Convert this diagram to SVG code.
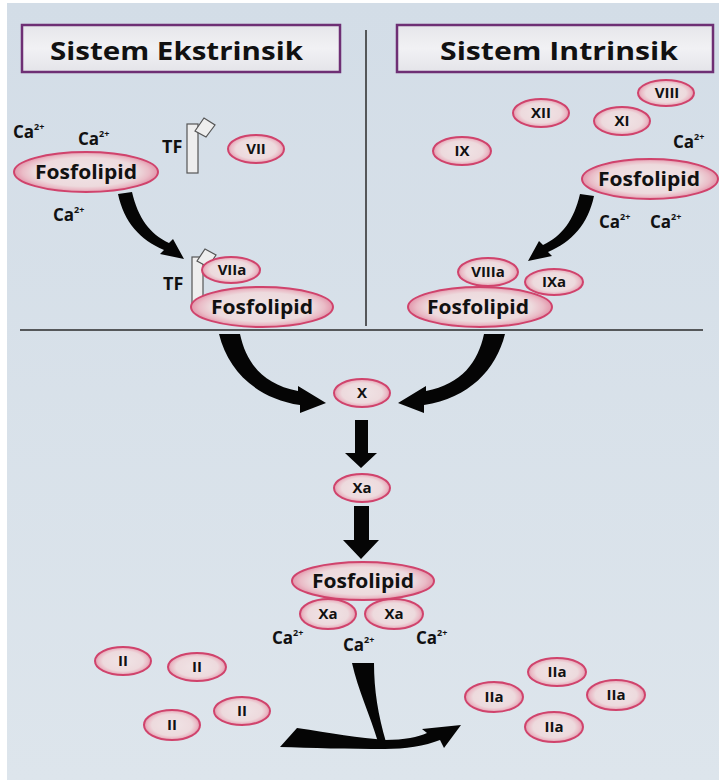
<svg xmlns="http://www.w3.org/2000/svg" width="719" height="780" viewBox="0 0 719 780">
<defs>
<linearGradient id="bg" x1="0" y1="0" x2="0" y2="1">
<stop offset="0" stop-color="#d3dde7"/>
<stop offset="1" stop-color="#dde5ec"/>
</linearGradient>
<radialGradient id="eg" cx="50%" cy="50%" r="50%">
<stop offset="0" stop-color="#f0e4e6"/>
<stop offset="0.72" stop-color="#eddadd"/>
<stop offset="0.88" stop-color="#eabcc7"/>
<stop offset="1" stop-color="#e296ab"/>
</radialGradient>
<linearGradient id="hg" x1="0" y1="0" x2="0" y2="1">
<stop offset="0" stop-color="#e6e6ea"/>
<stop offset="0.5" stop-color="#f1f1f4"/>
<stop offset="1" stop-color="#e4e4e9"/>
</linearGradient>
</defs>
<style>
.el{fill:url(#eg);stroke:#d0436c;stroke-width:2}
.t{font-family:"Open Sans","Liberation Sans",sans-serif;font-weight:700;fill:#111}
.lb{font-size:15px;text-anchor:middle}
.fl{font-size:20px;text-anchor:middle}
.ca{font-size:17px}
.sup{font-size:9px}
.hd{fill:url(#hg);stroke:#6e2f74;stroke-width:2.5}
.ht{font-size:25px}
.ln{stroke:#2a2a2a;stroke-width:1.5}
.ar{fill:#050505}
.tf{fill:#eeeeee;stroke:#555;stroke-width:1.2}
</style>
<rect x="0" y="0" width="719" height="780" fill="#ffffff"/>
<rect x="7" y="3" width="712" height="777" fill="url(#bg)"/>

<g id="header-ekstrinsik">
<rect class="hd" x="22" y="25" width="318" height="47"/>
<text class="t ht" x="50" y="60" textLength="253" lengthAdjust="spacingAndGlyphs">Sistem Ekstrinsik</text>
</g>
<g id="header-intrinsik">
<rect class="hd" x="397" y="25" width="316" height="47"/>
<text class="t ht" x="440" y="60" textLength="238" lengthAdjust="spacingAndGlyphs">Sistem Intrinsik</text>
</g>

<g id="dividers">
<line class="ln" x1="366" y1="30" x2="366" y2="326"/>
<line class="ln" x1="20" y1="330" x2="703" y2="330"/>
</g>

<g id="connectors">
<path class="ar" d="M118,194 L132,192 C138,218 150,234 169,243 L173,239 L184,259 L160,254 L164,250 C140,240 124,222 118,194 Z"/>
<path class="ar" transform="translate(712,2) scale(-1,1)" d="M118,194 L132,192 C138,218 150,234 169,243 L173,239 L184,259 L160,254 L164,250 C140,240 124,222 118,194 Z"/>
<path class="ar" d="M219,334 L240,334 C246,362 262,384 298,391 L298,386 L326,403 L300,413 L300,405 C255,398 228,370 219,334 Z"/>
<path class="ar" transform="translate(724,0) scale(-1,1)" d="M219,334 L240,334 C246,362 262,384 298,391 L298,386 L326,403 L300,413 L300,405 C255,398 228,370 219,334 Z"/>
<path class="ar" d="M355,420 L368,420 L368,453 L377,453 L361,468 L345,453 L355,453 Z"/>
<path class="ar" d="M354,506 L369,506 L369,540 L379,540 L361,559 L343,540 L354,540 Z"/>
<path class="ar" d="M352,663 L374,663 C374,690 378,715 386,742 L378,742 C370,715 358,690 352,663 Z"/>
<path class="ar" d="M280,747 L297,728 C330,733 360,738 385,740 C405,740 418,737 427,733 L422,729 L461,725 L444,748 L440,740 C425,746 405,749 385,749 C350,749 310,748 280,747 Z"/>
</g>

<g id="ca-labels">
<text class="t ca" x="13" y="138">Ca<tspan class="sup" dy="-8">2+</tspan></text>
<text class="t ca" x="78" y="145">Ca<tspan class="sup" dy="-8">2+</tspan></text>
<text class="t ca" x="53" y="221">Ca<tspan class="sup" dy="-8">2+</tspan></text>
<text class="t ca" x="673" y="148">Ca<tspan class="sup" dy="-8">2+</tspan></text>
<text class="t ca" x="599" y="228">Ca<tspan class="sup" dy="-8">2+</tspan></text>
<text class="t ca" x="650" y="228">Ca<tspan class="sup" dy="-8">2+</tspan></text>
<text class="t ca" x="272" y="644">Ca<tspan class="sup" dy="-8">2+</tspan></text>
<text class="t ca" x="343" y="651">Ca<tspan class="sup" dy="-8">2+</tspan></text>
<text class="t ca" x="416" y="644">Ca<tspan class="sup" dy="-8">2+</tspan></text>
</g>

<g id="tf-top">
<rect class="tf" x="187" y="124" width="11" height="49"/>
<polygon class="tf" points="195,131 204,118 215,125 206,137"/>
<text class="t" x="162" y="153" font-size="18">TF</text>
</g>
<g id="tf-bottom">
<rect class="tf" x="192" y="257" width="11" height="46"/>
<polygon class="tf" points="197,261 205,249 216,255 208,267"/>
<text class="t" x="163" y="290" font-size="18">TF</text>
</g>

<g id="fosfolipid-ekstrinsik">
<ellipse class="el" cx="86" cy="172" rx="72" ry="20"/>
<text class="t fl" x="86" y="179" textLength="102" lengthAdjust="spacingAndGlyphs">Fosfolipid</text>
</g>
<g id="vii">
<ellipse class="el" cx="256" cy="149" rx="28" ry="14"/>
<text class="t lb" x="256" y="154">VII</text>
</g>
<g id="viia">
<ellipse class="el" cx="231" cy="270" rx="29" ry="13"/>
<text class="t lb" x="232" y="275">VIIa</text>
</g>
<g id="fosfolipid-tf">
<ellipse class="el" cx="262" cy="307" rx="71" ry="20"/>
<text class="t fl" x="262" y="314" textLength="102" lengthAdjust="spacingAndGlyphs">Fosfolipid</text>
</g>

<g id="xii">
<ellipse class="el" cx="541" cy="113" rx="28" ry="14"/>
<text class="t lb" x="541" y="118">XII</text>
</g>
<g id="viii">
<ellipse class="el" cx="666" cy="93" rx="28" ry="13"/>
<text class="t lb" x="667" y="98">VIII</text>
</g>
<g id="xi">
<ellipse class="el" cx="622" cy="121" rx="28" ry="14"/>
<text class="t lb" x="622" y="126">XI</text>
</g>
<g id="ix">
<ellipse class="el" cx="462" cy="151" rx="29" ry="14"/>
<text class="t lb" x="462" y="156">IX</text>
</g>
<g id="fosfolipid-intrinsik">
<ellipse class="el" cx="650" cy="179" rx="68" ry="20"/>
<text class="t fl" x="649" y="186" textLength="102" lengthAdjust="spacingAndGlyphs">Fosfolipid</text>
</g>
<g id="viiia">
<ellipse class="el" cx="488" cy="272" rx="30" ry="14"/>
<text class="t lb" x="488" y="277">VIIIa</text>
</g>
<g id="ixa">
<ellipse class="el" cx="554" cy="282" rx="29" ry="13"/>
<text class="t lb" x="554" y="287">IXa</text>
</g>
<g id="fosfolipid-tenase">
<ellipse class="el" cx="480" cy="307" rx="72" ry="20"/>
<text class="t fl" x="478" y="314" textLength="102" lengthAdjust="spacingAndGlyphs">Fosfolipid</text>
</g>

<g id="x">
<ellipse class="el" cx="362" cy="393" rx="28" ry="14"/>
<text class="t lb" x="362" y="398">X</text>
</g>
<g id="xa">
<ellipse class="el" cx="362" cy="488" rx="28" ry="14"/>
<text class="t lb" x="362" y="493">Xa</text>
</g>
<g id="xa-left">
<ellipse class="el" cx="328" cy="614" rx="28" ry="15"/>
<text class="t lb" x="328" y="619">Xa</text>
</g>
<g id="xa-right">
<ellipse class="el" cx="394" cy="614" rx="29" ry="15"/>
<text class="t lb" x="394" y="619">Xa</text>
</g>
<g id="fosfolipid-prothrombinase">
<ellipse class="el" cx="363" cy="581" rx="71" ry="19"/>
<text class="t fl" x="363" y="588" textLength="102" lengthAdjust="spacingAndGlyphs">Fosfolipid</text>
</g>

<g id="ii-1"><ellipse class="el" cx="123" cy="661" rx="28" ry="14"/><text class="t lb" x="123" y="666">II</text></g>
<g id="ii-2"><ellipse class="el" cx="197" cy="667" rx="29" ry="14"/><text class="t lb" x="197" y="672">II</text></g>
<g id="ii-3"><ellipse class="el" cx="242" cy="711" rx="28" ry="14"/><text class="t lb" x="242" y="716">II</text></g>
<g id="ii-4"><ellipse class="el" cx="172" cy="725" rx="28" ry="15"/><text class="t lb" x="172" y="730">II</text></g>

<g id="iia-1"><ellipse class="el" cx="557" cy="672" rx="29" ry="14"/><text class="t lb" x="557" y="677">IIa</text></g>
<g id="iia-2"><ellipse class="el" cx="494" cy="697" rx="29" ry="15"/><text class="t lb" x="494" y="702">IIa</text></g>
<g id="iia-3"><ellipse class="el" cx="616" cy="695" rx="29" ry="15"/><text class="t lb" x="616" y="700">IIa</text></g>
<g id="iia-4"><ellipse class="el" cx="554" cy="727" rx="29" ry="15"/><text class="t lb" x="554" y="732">IIa</text></g>
</svg>
